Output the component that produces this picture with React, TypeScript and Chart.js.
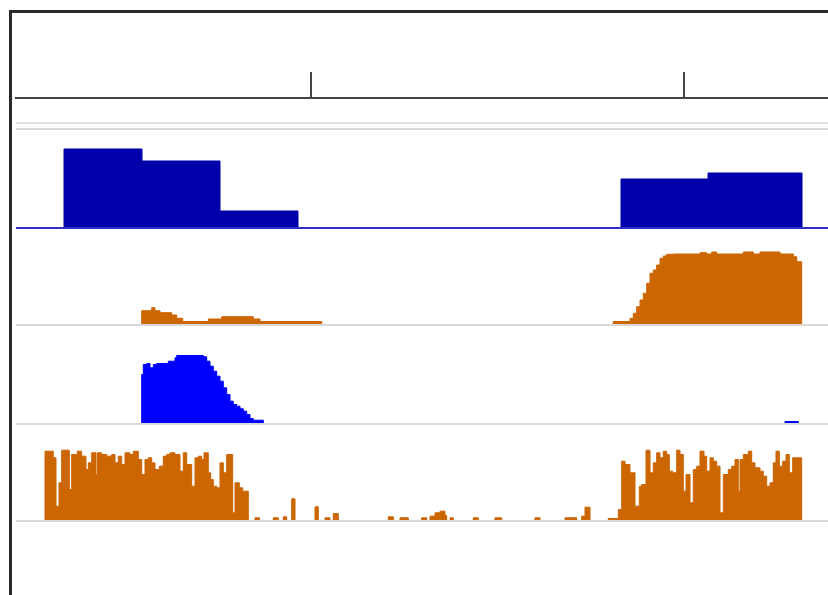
import React, { useEffect, useRef } from "react";
import { Chart, registerables } from "chart.js";

Chart.register(...registerables);

// Genome window (bin positions along the ruler)
const windowStart = 16;
const windowEnd = 828;
const rulerTicks = [311, 684];

// Track 1: binned coverage (step blocks)
const coverageX = [16, 64, 142, 220, 298, 621, 708, 802, 828];
const coverageY = [0, 79, 67, 17, 0, 49, 55, 0, 0];

// Track 2: orange signal
const signalAX = [16, 141.7, 151.7, 155, 160, 171.7, 176.7, 182.7, 208.3, 221.7,
  253.3, 260, 321.7, 613.3, 630, 633.3, 636.7, 640, 643.3, 646.7,
  650, 653.3, 656.7, 660, 663.3, 666.7, 673.3, 700, 706.7, 711.7,
  716.7, 743.3, 753.3, 760, 780, 793.3, 796.7, 801.7, 828];
const signalAY = [0, 14.3, 17.3, 14.3, 12.3, 10, 6.7, 3.5, 6, 8.3,
  6, 3.5, 0, 3.5, 6.7, 11.7, 18.3, 25, 31.7, 41.7,
  51.7, 55, 60, 66.7, 69, 70.7, 71, 72.3, 71, 73,
  71, 73, 71, 73, 71, 68.3, 63.3, 0, 0];

// Track 3: blue signal
const signalBX = [16, 141.7, 143.3, 146.7, 150, 153.3, 156.7, 168.3, 175, 176.7,
  203.3, 206.7, 210, 213.3, 216.7, 220, 223.3, 226.7, 230, 233.3,
  236.7, 240, 243.3, 246.7, 250, 253.3, 263.3, 785, 798.3, 828];
const signalBY = [0, 49.5, 59.5, 60.5, 56.2, 59.5, 60.5, 62.8, 66.2, 68.5,
  67.2, 62.8, 57.8, 52.8, 47.8, 42.8, 36.2, 29.5, 22.8, 19.5,
  17.8, 15.2, 12.8, 9.5, 5.5, 3.8, 0, 2.5, 0, 0];

// Track 4: fine-binned read density
const readsX = [
  16, 45, 53.3, 56, 59, 61.7, 69.3, 71.7, 77.3, 81.7,
  86, 88.3, 91.7, 96, 97.3, 101.7, 106.7, 111.7, 115, 118.3,
  121.7, 125, 130, 133.3, 138.3, 141.7, 145, 148.3, 151.7, 155,
  159.3, 163.3, 166.7, 170, 175, 180, 183.3, 186.7, 191.7, 195,
  198.3, 201.7, 204, 208.3, 210.7, 213.3, 216.7, 220, 223.3, 226.7,
  232.7, 235, 239.3, 242.7, 248.3,
  255, 259.3, 273.3, 278.3, 283.3, 286.7, 291.7, 295, 315, 318.3,
  325, 330, 333.3, 338.3, 388.3, 393.3, 400, 408.3, 421.7, 426.7,
  430, 435, 440, 445, 446.7, 450, 453.3, 473.3, 478.3, 495,
  501.7, 535, 540, 565, 576.7, 581.7, 585, 590, 608.3, 618.3,
  621.7, 625, 630, 635, 639.3, 641.7, 646, 650, 653.3, 656.7,
  660, 663.3, 666.7, 669.3, 672.7, 676.7, 680, 683.3, 686, 690,
  693.3, 696.7, 700, 704, 706.7, 710, 713.3, 716.7, 720, 723.3,
  728.3, 731.7, 735, 738.3, 740, 743.3, 748.3, 751.7, 755, 760,
  763.3, 766.7, 770, 773.3, 776, 779.3, 782.7, 786, 789.3, 792.7,
  801.7, 828,
];
const readsY = [
  0, 69.8, 63.2, 14.8, 38.2, 70.8, 31.5, 66.5, 69.8, 64.8,
  51.5, 58.2, 68.2, 46.5, 68.2, 66.5, 64.8, 66.5, 58.2, 64.8,
  56.5, 68.2, 66.5, 69.8, 61.5, 46.5, 61.5, 63.2, 58.2, 51.5,
  54.8, 64.8, 66.5, 68.2, 66.5, 49.8, 68.2, 56.5, 34.8, 63.2,
  64.8, 61.5, 68.2, 48.2, 41.5, 34.8, 33.2, 58.2, 48.2, 66.5,
  8.2, 38.2, 33.2, 29.8, 0,
  3.2, 0, 3.2, 0, 4.2, 0, 22.2, 0, 14.2, 0,
  3.2, 0, 7.5, 0, 4.2, 0, 3.2, 0, 3.2, 0,
  4.8, 8.2, 9.8, 5.5, 0, 3.2, 0, 3.2, 0, 3.2,
  0, 3.2, 0, 3.2, 0, 4.8, 13.8, 0, 2.5, 11.5,
  59.8, 56.5, 48.2, 14.8, 34.8, 36.5, 70.8, 48.2, 58.2, 68.2,
  63.2, 69.8, 66.5, 49.8, 48.2, 70.8, 66.5, 29.8, 46.5, 18.2,
  51.5, 54.8, 69.8, 64.8, 49.8, 63.2, 59.8, 54.8, 8.2, 46.5,
  51.5, 54.8, 61.5, 29.8, 61.5, 66.5, 69.8, 58.2, 53.2, 49.8,
  44.8, 34.8, 38.2, 58.2, 69.8, 54.8, 59.8, 66.5, 48.2, 63.2,
  0, 0,
];

// Track ranges (max value shown in each track)
const trackMax = [130, 97, 99, 97];

const toPoints = (xs: number[], ys: number[]) => xs.map((x, i) => ({ x, y: ys[i] }));

function trackScale(order: number, max: number, lineColor: string) {
  return {
    type: "linear" as const,
    position: "right" as const,
    stack: "tracks",
    stackWeight: max,
    weight: order,
    min: 0,
    max,
    offset: false,
    afterBuildTicks: (scale: any) => {
      scale.ticks = [{ value: 0 }];
    },
    ticks: { display: false },
    border: { display: false },
    grid: { drawTicks: false, color: lineColor, lineWidth: 2, z: 1 },
  };
}

function stepSet(data: any[], axis: string, color: string) {
  return {
    type: "line" as const,
    data,
    yAxisID: axis,
    xAxisID: "x",
    stepped: "before" as const,
    fill: "origin",
    backgroundColor: color,
    borderColor: color,
    borderWidth: 1,
    pointRadius: 0,
    tension: 0,
  };
}

export default function App() {
  const ref = useRef<HTMLCanvasElement | null>(null);

  useEffect(() => {
    if (!ref.current) return;
    const chart = new Chart(ref.current, {
      type: "line",
      data: {
        datasets: [
          stepSet(toPoints(coverageX, coverageY), "y1", "#0000AA"),
          stepSet(toPoints(signalAX, signalAY), "y2", "#CC6600"),
          stepSet(toPoints(signalBX, signalBY), "y3", "#0000FF"),
          stepSet(toPoints(readsX, readsY), "y4", "#CC6600"),
        ] as any,
      },
      options: {
        animation: false,
        responsive: false,
        events: [],
        layout: { padding: { left: 16, top: 72, right: 0, bottom: 74 } },
        plugins: { legend: { display: false }, tooltip: { enabled: false } },
        scales: {
          x: {
            type: "linear",
            position: "top",
            min: windowStart,
            max: windowEnd,
            afterBuildTicks: (scale: any) => {
              scale.ticks = rulerTicks.map((v) => ({ value: v }));
            },
            ticks: { display: false },
            grid: { drawOnChartArea: false, drawTicks: true, tickLength: 26, color: "#444", lineWidth: 2 },
            border: { display: true, color: "#444", width: 2 },
          },
          y1: trackScale(1, trackMax[0], "#2f2fc6"),
          y2: trackScale(2, trackMax[1], "#d9d9d9"),
          y3: trackScale(3, trackMax[2], "#d9d9d9"),
          y4: trackScale(4, trackMax[3], "#d9d9d9"),
        } as any,
      },
    });
    return () => chart.destroy();
  }, []);

  return (
    <div style={{ position: "fixed", left: 0, top: 0, width: 828, height: 595, overflow: "hidden", background: "#fff" }}>
      <canvas ref={ref} width={828} height={595} style={{ position: "absolute", left: 0, top: 0 }} />
      <div style={{ position: "absolute", left: 9, top: 10, width: 900, height: 700, borderLeft: "3px solid #2a2a2a", borderTop: "3px solid #2a2a2a" }} />
      <div style={{ position: "absolute", left: 16, top: 122, width: 812, height: 2, background: "#e2e2e2" }} />
      <div style={{ position: "absolute", left: 16, top: 128, width: 812, height: 2, background: "#dadada" }} />
    </div>
  );
}
